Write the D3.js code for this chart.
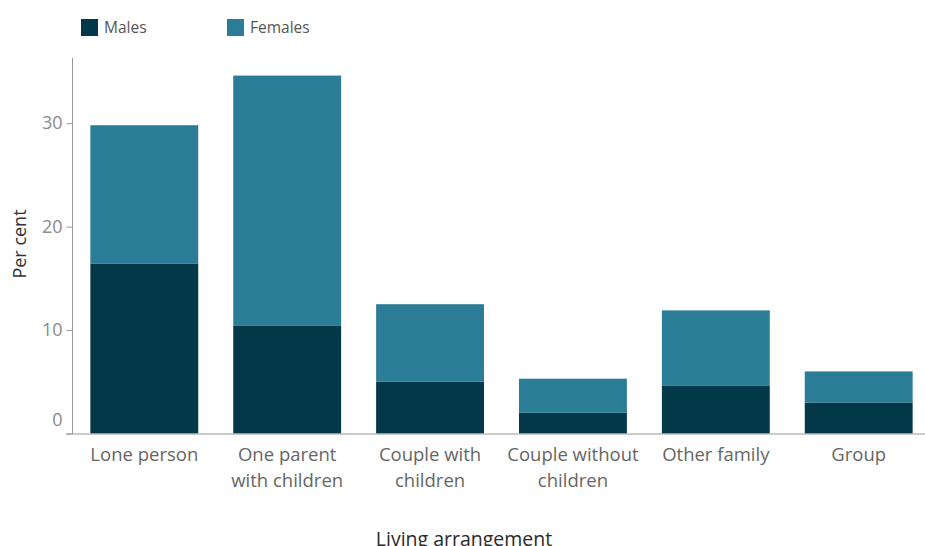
<!DOCTYPE html>
<html><head><meta charset="utf-8">
<script src="https://cdn.jsdelivr.net/npm/d3@7"></script>
<style>body{margin:0;background:#fff;}svg{display:block;font-family:"Open Sans",sans-serif;}</style>
</head><body><svg id="c" width="925" height="546"></svg>
<script>
const categories = [["Lone person"],["One parent","with children"],["Couple with","children"],["Couple without","children"],["Other family"],["Group"]];
const males   = [16.4, 10.4, 5.0, 2.0, 4.6, 3.0];
const females = [13.4, 24.2, 7.5, 3.3, 7.3, 3.0];
const yTicks = [0, 10, 20, 30];
const seriesNames = ["Males","Females"];
const colors = ["#033848","#2b7c96"];

const svg = d3.select("#c");
const x = d3.scaleBand().domain(d3.range(categories.length)).range([72.5, 930.5]).paddingInner(0.245).paddingOuter(0.125);
const y = d3.scaleLinear().domain([0, 36.3]).range([433.5, 58]);

// stacked
const rows = categories.map((c,i)=>({i, Males: males[i], Females: females[i]}));
const stack = d3.stack().keys(seriesNames)(rows);
svg.append("g").selectAll("g").data(stack).join("g").attr("fill",(d,k)=>colors[k])
  .selectAll("rect").data(d=>d).join("rect")
  .attr("x",d=>x(d.data.i)).attr("width",x.bandwidth())
  .attr("y",d=>y(d[1])).attr("height",d=>y(d[0])-y(d[1]));

// y axis
const ya = svg.append("g").attr("transform","translate(72.5,0)")
  .call(d3.axisLeft(y).tickValues(yTicks).tickSize(6).tickPadding(4));
ya.select(".domain").attr("stroke","#999").attr("d","M0,58V434");
ya.selectAll(".tick line").attr("stroke","#999");
ya.selectAll(".tick text").attr("fill","#8a8a8a").style("font-size","18px").style("font-family","Open Sans")
  .attr("dy",d=>d===0?"-0.42em":"0.32em");

// x axis line
svg.append("line").attr("x1",66).attr("x2",925).attr("y1",434).attr("y2",434).attr("stroke","#999");

// x labels
const xl = svg.append("g");
categories.forEach((lines,i)=>{
  const t = xl.append("text").attr("text-anchor","middle").attr("fill","#666").style("font-size","18.5px")
    .attr("x", x(i)+x.bandwidth()/2).attr("y",461);
  lines.forEach((s,j)=>t.append("tspan").attr("x",x(i)+x.bandwidth()/2).attr("dy",j===0?0:26).text(s));
});

// axis titles
svg.append("text").attr("transform","translate(26,244) rotate(-90)").attr("text-anchor","middle")
  .attr("fill","#333").style("font-size","18px").text("Per cent");
svg.append("text").attr("x",464).attr("y",546).attr("text-anchor","middle")
  .attr("fill","#2a2a2a").style("font-size","19.5px").text("Living arrangement");

// legend
const lg = svg.append("g");
const lx = [81, 227];
seriesNames.forEach((n,k)=>{
  lg.append("rect").attr("x",lx[k]).attr("y",19).attr("width",17).attr("height",17).attr("fill",colors[k]);
  lg.append("text").attr("x",lx[k]+23).attr("y",33).attr("fill","#555").style("font-size","15.5px").text(n);
});
</script></body></html>
